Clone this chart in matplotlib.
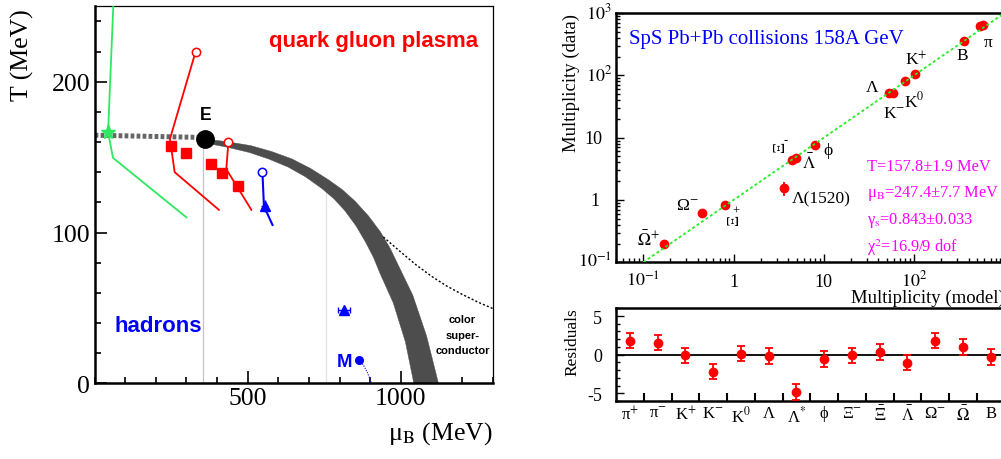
import matplotlib
matplotlib.use("Agg")
import matplotlib.pyplot as plt
from matplotlib.ticker import MultipleLocator, FixedLocator, NullFormatter
from matplotlib.transforms import blended_transform_factory, offset_copy

plt.rcParams['font.family'] = ['Liberation Serif', 'DejaVu Serif']
plt.rcParams['mathtext.fontset'] = 'stix'
SANS = ['Liberation Sans', 'DejaVu Sans']

# ---------------- left panel: QCD phase diagram (mu_B, T in MeV) ----------------
# first-order transition band: QGP-side edge and hadron-side edge
band_qgp_mu = [361.7, 436.3, 510.3, 578.0, 644.3, 705.0, 762.8, 808.9, 851.0, 895.1,
               934.1, 964.6, 990.8, 1039.1, 1084.2, 1120.4, 1133.1]
band_qgp_T = [162.0, 160.1, 157.6, 153.7, 148.8, 142.5, 135.1, 128.4, 120.7, 110.8,
              100.2, 89.7, 78.7, 58.4, 31.3, 2.0, -8.5]
band_had_mu = [359.4, 432.4, 504.6, 569.2, 631.9, 688.7, 741.9, 781.8, 817.1, 853.3,
               884.1, 910.4, 932.0, 975.1, 1014.9, 1044.0, 1057.4]
band_had_T = [159.4, 156.6, 153.1, 148.7, 143.4, 136.9, 129.2, 122.3, 114.5, 104.5,
              93.9, 83.6, 72.9, 53.4, 27.5, -1.6, -12.3]
crossover_mu = [0, 362]
crossover_T = [164.5, 163.0]
crit_mu = [362]
crit_T = [162]
csc_mu = [943, 1000, 1050, 1100, 1150, 1200, 1250, 1300]
csc_T = [97.0, 87, 78.5, 71, 64.5, 59, 54, 49.6]
green_mu = [61, 44, 60, 300]
green_T = [250, 166.5, 149.5, 110]
green_star_mu = [44]
green_star_T = [166.5]
red1_mu = [330, 246, 261.5, 406]
red1_T = [220, 162, 140, 115]
red2_mu = [437, 430, 512]
red2_T = [160, 142, 115]
red_open_mu = [330, 437]
red_open_T = [220, 160]
red_sq_mu = [248, 297.5, 381, 415, 467]
red_sq_T = [157.5, 153, 145.7, 139.7, 131]
red_sq_err = [2, 2.5, 2, 2, 3]
blue_mu = [548, 553, 581]
blue_T = [140, 117.4, 105]
blue_open_mu = [548]
blue_open_T = [140]
blue_tri1_mu = [555]
blue_tri1_T = [117.4]
blue_tri2_mu = [815]
blue_tri2_T = [48.5]
M_mu = [864]
M_T = [15.5]
M_line_mu = [864, 878, 890, 898, 904]
M_line_T = [15.5, 12, 7.5, 3.5, 0]
guide_mu = [353, 756]
guide_top = [156, 127]

# ---------------- right panel: statistical model fit ----------------
fit_model = [0.168, 0.443, 0.80, 3.6, 4.47, 4.9, 8.0, 52, 58.8, 79, 101, 356, 531, 573]
fit_data = [0.20, 0.62, 0.83, 1.56, 4.43, 4.67, 7.6, 52.7, 51.6, 82, 104, 360, 614, 637]
fit_err_lo = [0, 0, 0, 0.39, 0, 0, 0, 0, 0, 0, 0, 0, 0, 0]
fit_err_hi = [0, 0, 0, 0.41, 0, 0, 0, 0, 0, 0, 0, 0, 0, 0]
diag_x = [0.1, 1000]

res_labels = ['π$^{+}$', 'π$^{-}$', 'K$^{+}$', 'K$^{-}$', 'K$^{0}$', 'Λ',
              'Λ$^{*}$', 'ϕ', 'Ξ$^{-}$', r'$\bar{\Xi}$', r'$\bar{\Lambda}$',
              'Ω$^{-}$', r'$\bar{\Omega}$', 'B']
res_values = [1.8, 1.55, -0.1, -2.2, 0.13, -0.2, -4.85, -0.55, -0.1, 0.35, -1.05, 1.8, 1.0, -0.3]
res_err = [1.0, 1.0, 1.0, 1.0, 1.0, 1.0, 1.0, 1.0, 1.0, 1.0, 1.0, 1.0, 1.0, 1.0]

W, H = 1001, 460
fig = plt.figure(figsize=(W / 100, H / 100), dpi=100)

def rect(l, r, t, b):
    return [l / W, (H - b) / H, (r - l) / W, (b - t) / H]

# ================= LEFT =================
ax1 = fig.add_axes(rect(94.6, 492.7, 7.3, 384.3))
ax1.set_xlim(0, 1300)
ax1.set_ylim(0, 250)

for m, top, c in zip(guide_mu, guide_top, ['#c4c4c4', '#e2e2e2']):
    ax1.plot([m, m], [0, top], color=c, lw=0.9, zorder=1)

poly_mu = band_qgp_mu + band_had_mu[::-1]
poly_T = band_qgp_T + band_had_T[::-1]
ax1.fill(poly_mu, poly_T, color='#4d4d4d', lw=0.3, ec='#4d4d4d', zorder=2)
ax1.plot(crossover_mu, crossover_T, color='#666666', lw=3.6,
         linestyle=(0, (0.75, 0.45)), solid_capstyle='butt', zorder=2)
ax1.plot(csc_mu, csc_T, color='black', lw=1.0, linestyle=(0, (1.5, 1.5)), zorder=2)

green = '#2ee860'
ax1.plot(green_mu, green_T, color=green, lw=1.3, zorder=3)
ax1.plot(green_star_mu, green_star_T, marker='*', ms=11, color=green, ls='none', zorder=4)

red = '#ff0000'
ax1.plot(red1_mu, red1_T, color=red, lw=1.3, zorder=3)
ax1.plot(red2_mu, red2_T, color=red, lw=1.3, zorder=3)
ax1.plot(red_open_mu, red_open_T, marker='o', ms=6, mfc='white', mec=red, mew=1.1,
         ls='none', zorder=4)
ax1.errorbar(red_sq_mu, red_sq_T, yerr=red_sq_err, fmt='s', ms=7.5, color=red,
             elinewidth=1.0, capsize=0, zorder=5)

blue = '#0000ff'
ax1.plot(blue_mu, blue_T, color=blue, lw=1.5, zorder=3)
ax1.plot(blue_open_mu, blue_open_T, marker='o', ms=6, mfc='white', mec=blue, mew=1.1,
         ls='none', zorder=4)
ax1.errorbar(blue_tri1_mu, blue_tri1_T, yerr=[4], xerr=[10], fmt='^', ms=7.5, color=blue,
             elinewidth=1.0, capsize=0, zorder=5)
ax1.errorbar(blue_tri2_mu, blue_tri2_T, xerr=[20], fmt='^', ms=7.5, color=blue,
             elinewidth=1.0, capsize=2, zorder=5)
ax1.plot(M_line_mu, M_line_T, color=blue, lw=0.8, ls=(0, (1, 1.2)), zorder=3)
ax1.plot(M_mu, M_T, marker='o', ms=5.5, color=blue, ls='none', zorder=5)

ax1.plot(crit_mu, crit_T, marker='o', ms=12.5, color='black', ls='none', zorder=6)

ax1.text(569, 224, 'quark gluon plasma', color=red, fontsize=16, fontweight='bold',
         family=SANS, ha='left', va='baseline')
ax1.text(65, 34.8, 'hadrons', color=blue, fontsize=16, fontweight='bold',
         family=SANS, ha='left', va='baseline')
ax1.text(362, 175.4, 'E', color='black', fontsize=12.7, fontweight='bold',
         family=SANS, ha='center', va='baseline')
ax1.text(791, 11.5, 'M', color=blue, fontsize=13.4, fontweight='bold',
         family=SANS, ha='left', va='baseline')
for txt, t in zip(['color', 'super-', 'conductor'], [42.5, 31.9, 21.9]):
    ax1.text(1201, t, txt, color='black', fontsize=8, fontweight='bold',
             family=SANS, ha='center', va='center')

ax1.xaxis.set_major_locator(FixedLocator([500, 1000]))
ax1.xaxis.set_minor_locator(MultipleLocator(100))
ax1.yaxis.set_major_locator(FixedLocator([0, 100, 200]))
ax1.yaxis.set_minor_locator(MultipleLocator(20))
ax1.tick_params(which='both', direction='in', top=False, right=False, width=1.2,
                labelsize=18.5)
ax1.tick_params(which='major', length=8.6)
ax1.tick_params(which='minor', length=4.3)
ax1.tick_params(axis='x', pad=2.6)
ax1.tick_params(axis='y', pad=3.3)
for s in ['left', 'bottom']:
    ax1.spines[s].set_linewidth(1.8)
for s in ['top', 'right']:
    ax1.spines[s].set_linewidth(0.9)
ax1.text(-0.181, 0.873, 'T (MeV)', transform=ax1.transAxes, rotation=90,
         ha='center', va='center', fontsize=18.5)
ax1.text(1.0, -0.13, 'μ$_{\\rm B}$ (MeV)', transform=ax1.transAxes,
         ha='right', va='center', fontsize=18.5)

# ================= RIGHT TOP =================
ax2 = fig.add_axes(rect(616, 1004.5, 14, 263.3))
ax2.set_xscale('log')
ax2.set_yscale('log')
ax2.set_xlim(0.05, 1000)
ax2.set_ylim(0.1, 1000)
ax2.plot(diag_x, diag_x, color='#22ee22', lw=1.3, ls=(0, (1.6, 1.4)), zorder=4)
ax2.errorbar(fit_model, fit_data, yerr=[fit_err_lo, fit_err_hi], fmt='o', ms=6,
             color=red, elinewidth=1.3, capsize=0, zorder=3)
ax2.tick_params(which='both', direction='in', top=False, right=False, width=1.0,
                labelleft=False, labelbottom=False)
ax2.tick_params(which='major', length=5.5)
ax2.tick_params(which='minor', length=3)
for s in ax2.spines.values():
    s.set_linewidth(1.8)

bx = blended_transform_factory(ax2.transData, ax2.transAxes)
for v, lab in zip([0.1, 1, 10, 100], [r'$10^{-1}$', '1', '10', r'$10^{2}$']):
    ax2.text(v, -0.0939, lab, transform=bx, ha='center', va='baseline', fontsize=13)
by = offset_copy(blended_transform_factory(ax2.transAxes, ax2.transData), fig=fig,
                 x=0, y=-5, units='dots')
for v, lab, xr in zip([1000, 100, 10, 1, 0.1],
                      [r'$10^{3}$', r'$10^{2}$', '10', '1', r'$10^{-1}$'],
                      [612, 612, 602, 600, 612]):
    ax2.text((xr - 616) / 388.5, v, lab, transform=by, ha='right', va='baseline',
             fontsize=13)

ax2.text(-0.114, 0.723, 'Multiplicity (data)', transform=ax2.transAxes, rotation=90,
         ha='center', va='center', fontsize=13.5)
ax2.text(1.0, -0.139, 'Multiplicity (model)', transform=ax2.transAxes,
         ha='right', va='center', fontsize=13.5)
ax2.text(0.034, 0.896, 'SpS Pb+Pb collisions 158A GeV', transform=ax2.transAxes,
         color=blue, fontsize=15, ha='left', va='center')

mag = '#ff00ff'
for txt, y in zip(['T=157.8±1.9 MeV', 'μ$_{\\rm B}$=247.4±7.7 MeV',
                   'γ$_{\\rm s}$=0.843±0.033', 'χ$^{2}$=16.9/9 dof'],
                  [0.3875, 0.281, 0.171, 0.064]):
    ax2.text(0.645, y, txt, transform=ax2.transAxes, color=mag, fontsize=11.8,
             ha='left', va='center')

lab_kw = dict(fontsize=12.5, ha='center', va='center', color='black')
ax2.text(0.1157, 0.235, r'$\bar{\Omega}^{+}$', **lab_kw)
ax2.text(0.305, 0.83, 'Ω$^{-}$', **lab_kw)
ax2.text(1.0, 0.50, 'Ξ', rotation=90, **lab_kw)
ax2.text(1.05, 0.68, '+', fontsize=9, ha='center', va='center')
ax2.text(3.30, 7.4, 'Ξ', rotation=90, **lab_kw)
ax2.text(3.75, 9.3, '-', fontsize=9, ha='center', va='center')
ax2.text(6.82, 3.95, r'$\bar{\Lambda}$', **lab_kw)
ax2.text(11.07, 6.4, 'ϕ', **lab_kw)
ax2.text(4.43, 1.077, 'Λ(1520)', fontsize=12.5, ha='left', va='center')
ax2.text(34.0, 65.2, 'Λ', **lab_kw)
ax2.text(59.7, 24.9, 'K$^{-}$', **lab_kw)
ax2.text(99.5, 40.0, 'K$^{0}$', **lab_kw)
ax2.text(104.7, 183, 'K$^{+}$', **lab_kw)
ax2.text(338, 212, 'B', **lab_kw)
ax2.text(656, 343, 'π', **lab_kw)

# ================= RIGHT BOTTOM =================
ax3 = fig.add_axes(rect(616, 1004.5, 309.3, 402))
ax3.set_xlim(0, 14)
ax3.set_ylim(-6, 6)
centers = [i + 0.5 for i in range(len(res_values))]
ax3.axhline(0, color='black', lw=1.3, zorder=1)
ax3.errorbar(centers, res_values, yerr=res_err, fmt='o', ms=6, color=red,
             elinewidth=1.3, capsize=3, capthick=1.3, zorder=3)
ax3.xaxis.set_major_locator(FixedLocator(list(range(1, 14))))
ax3.xaxis.set_major_formatter(NullFormatter())
ax3.set_xticks(centers, minor=True)
ax3.set_xticklabels(res_labels, minor=True)
ax3.yaxis.set_major_locator(FixedLocator([-5, 0, 5]))
ax3.yaxis.set_minor_locator(MultipleLocator(1))
ax3.tick_params(which='both', direction='in', top=False, right=False, width=1.0)
ax3.tick_params(axis='x', which='major', length=5.5, width=1.5)
ax3.tick_params(axis='x', which='minor', length=0, labelsize=12, pad=3)
ax3.tick_params(axis='y', which='major', length=5.5, labelsize=13, pad=10)
ax3.tick_params(axis='y', which='minor', length=3)
ax3.set_yticklabels(['-5', '0', '5'])
for s in ax3.spines.values():
    s.set_linewidth(1.8)
ax3.text(-0.112, 0.642, 'Residuals', transform=ax3.transAxes, rotation=90,
         ha='center', va='center', fontsize=12.5)

fig.savefig('out.png', dpi=100)
